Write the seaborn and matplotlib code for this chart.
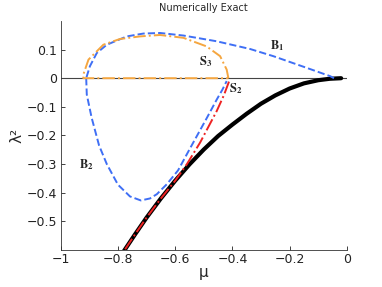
import numpy as np
import seaborn as sns
import matplotlib.pyplot as plt

# branch data (mu, lambda^2)
b1_mu = [-0.045, -0.058, -0.14, -0.257, -0.338, -0.455, -0.571, -0.653, -0.711, -0.769, -0.839, -0.874, -0.898, -0.911]
b1_lam = [0.0, 0.007, 0.036, 0.077, 0.102, 0.129, 0.149, 0.158, 0.156, 0.146, 0.117, 0.088, 0.042, 0.0]

b2_mu = [-0.911, -0.909, -0.892, -0.866, -0.839, -0.80, -0.758, -0.72, -0.688, -0.664, -0.629, -0.59, -0.548, -0.49, -0.455, -0.435, -0.42]
b2_lam = [0.0, -0.057, -0.138, -0.235, -0.30, -0.372, -0.413, -0.427, -0.42, -0.405, -0.37, -0.322, -0.245, -0.14, -0.075, -0.04, -0.01]

s2_mu = [-0.412, -0.43, -0.455, -0.513, -0.559, -0.60, -0.65, -0.70, -0.74, -0.78]
s2_lam = [-0.012, -0.06, -0.115, -0.225, -0.30, -0.358, -0.42, -0.487, -0.545, -0.605]

s3_mu = [-0.414, -0.42, -0.443, -0.49, -0.571, -0.653, -0.723, -0.793, -0.851, -0.903, -0.921, -0.921, -0.414]
s3_lam = [0.0, 0.03, 0.077, 0.111, 0.141, 0.151, 0.146, 0.137, 0.117, 0.065, 0.013, 0.0, 0.0]

exact_mu = [-0.78, -0.74, -0.70, -0.65, -0.60, -0.55, -0.50, -0.45, -0.40, -0.35, -0.30, -0.25, -0.20, -0.15, -0.10, -0.06, -0.02]
exact_lam = [-0.605, -0.545, -0.487, -0.42, -0.358, -0.301, -0.249, -0.202, -0.162, -0.124, -0.089, -0.060, -0.036, -0.018, -0.007, -0.002, 0.0]

xticks = [-1, -0.8, -0.6, -0.4, -0.2, 0]
yticks = [-0.5, -0.4, -0.3, -0.2, -0.1, 0, 0.1]

sns.set_style('ticks')
plt.rcParams['font.family'] = ['DejaVu Sans']
plt.rcParams['mathtext.fontset'] = 'stix'

fig = plt.figure(figsize=(3.82, 2.87), dpi=100)
ax = fig.add_axes([0.159, 0.129, 0.749, 0.798])

ax.axhline(0, color='#444444', lw=0.8, zorder=1)

blue = '#3f6ff5'
sns.lineplot(x=exact_mu, y=exact_lam, sort=False, estimator=None, color='black', lw=3.0, ax=ax)
sns.lineplot(x=s2_mu, y=s2_lam, sort=False, estimator=None, color='#ee2222', lw=1.4, linestyle='-.', ax=ax)
sns.lineplot(x=b1_mu, y=b1_lam, sort=False, estimator=None, color=blue, lw=1.4, linestyle='--', ax=ax)
sns.lineplot(x=b2_mu, y=b2_lam, sort=False, estimator=None, color=blue, lw=1.4, linestyle='--', ax=ax)
sns.lineplot(x=s3_mu, y=s3_lam, sort=False, estimator=None, color='#f5a640', lw=1.4, linestyle='-.', ax=ax)

lab = dict(fontsize=9, ha='center', va='center')
ax.text(-0.245, 0.114, r'$\mathbf{B}_\mathbf{1}$', **lab)
ax.text(-0.495, 0.059, r'$\mathbf{S}_\mathbf{3}$', **lab)
ax.text(-0.39, -0.037, r'$\mathbf{S}_\mathbf{2}$', **lab)
ax.text(-0.912, -0.303, r'$\mathbf{B}_\mathbf{2}$', **lab)

ax.set_xlim(-1, 0)
ax.set_ylim(-0.6, 0.2)
ax.set_xticks(xticks)
ax.set_xticklabels(['\u22121', '\u22120.8', '\u22120.6', '\u22120.4', '\u22120.2', '0'])
ax.set_yticks(yticks)
ax.set_yticklabels(['\u22120.5', '\u22120.4', '\u22120.3', '\u22120.2', '\u22120.1', '0', '0.1'])
ax.tick_params(direction='in', length=3, width=0.6, labelsize=9, colors='#222222', pad=2.5)
for s in ['top', 'right']:
    ax.spines[s].set_visible(False)
for s in ['left', 'bottom']:
    ax.spines[s].set_linewidth(0.6)
    ax.spines[s].set_color('#333333')

ax.set_xlabel('\u03bc', fontsize=11, labelpad=-1)
ax.set_ylabel('\u03bb\u00b2', fontsize=11, labelpad=2)
ax.set_title('Numerically Exact', fontsize=7, pad=7)

fig.savefig('out.png', dpi=100)
